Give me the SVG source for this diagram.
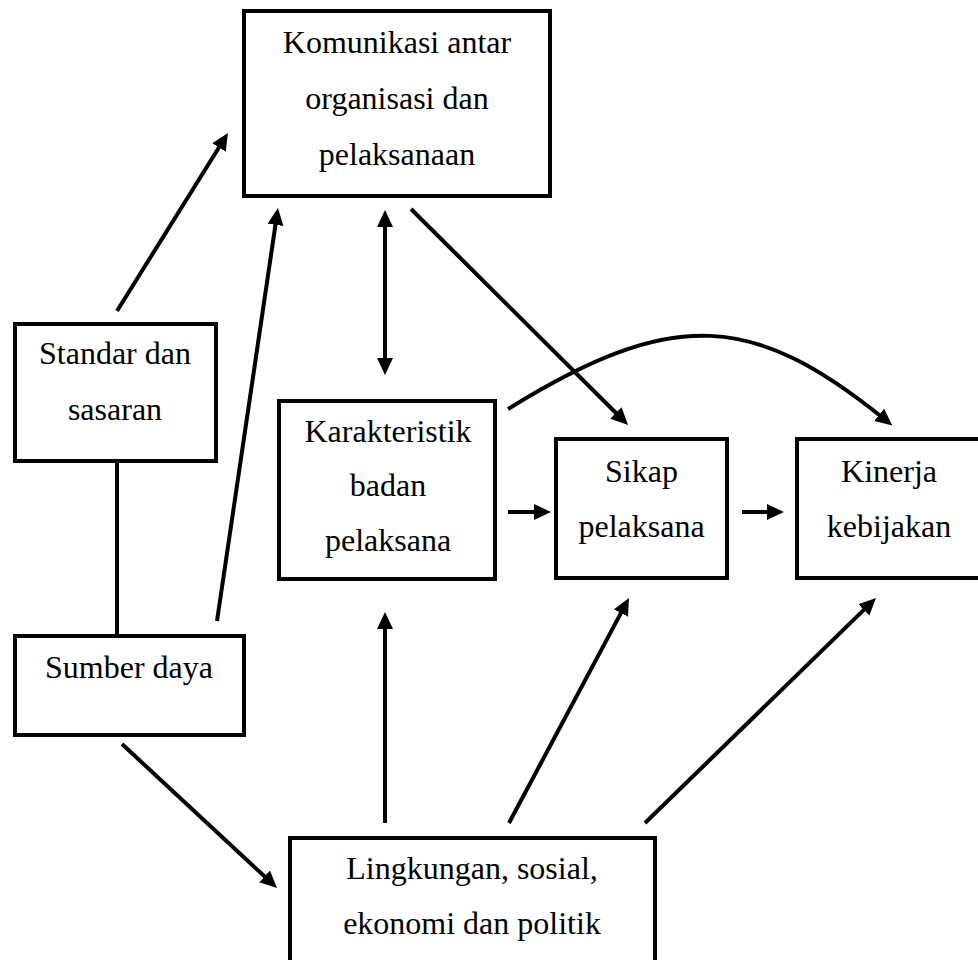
<svg xmlns="http://www.w3.org/2000/svg" width="978" height="960" viewBox="0 0 978 960">
<style>
  .box { fill: #ffffff; stroke: #000000; stroke-width: 4; }
  .lbl { font-family: "Liberation Serif", "Times New Roman", serif; font-size: 32px; fill: #000000; text-anchor: middle; }
  .conn { fill: none; stroke: #000000; stroke-width: 4; }
  .arr { marker-end: url(#ah); }
</style>
<defs>
  <marker id="ah" markerUnits="userSpaceOnUse" markerWidth="18" markerHeight="18" refX="5" refY="8" orient="auto-start-reverse" viewBox="0 0 18 18">
    <path d="M0,0 L17,8 L0,16 z" fill="#000000"/>
  </marker>
</defs>
<rect width="978" height="960" fill="#ffffff"/>

<g id="connectors">
  <line class="conn arr" x1="117" y1="311" x2="221.6" y2="143.2"/>
  <line class="conn arr" x1="217" y1="621" x2="276.2" y2="219.9"/>
  <line class="conn arr" x1="385" y1="222" x2="385" y2="363" marker-start="url(#ah)"/>
  <line class="conn arr" x1="411" y1="209" x2="619.5" y2="416.5"/>
  <path class="conn arr" d="M508,409 C675,305 755,315 883,418"/>
  <line class="conn arr" x1="508" y1="512" x2="539" y2="512"/>
  <line class="conn arr" x1="742" y1="512" x2="772" y2="512"/>
  <line class="conn arr" x1="385" y1="823" x2="385" y2="624"/>
  <line class="conn arr" x1="509" y1="823" x2="623.3" y2="608.6"/>
  <line class="conn arr" x1="645" y1="823" x2="867.4" y2="606.4"/>
  <line class="conn arr" x1="122" y1="744" x2="268.2" y2="879.8"/>
  <line class="conn" x1="117" y1="463" x2="117" y2="634"/>
</g>

<g id="komunikasi">
  <rect class="box" x="244" y="11" width="306" height="185"/>
  <text class="lbl" x="397" y="53">Komunikasi antar</text>
  <text class="lbl" x="397" y="109">organisasi dan</text>
  <text class="lbl" x="397" y="165">pelaksanaan</text>
</g>

<g id="standar">
  <rect class="box" x="15" y="324" width="201" height="137"/>
  <text class="lbl" x="115" y="364">Standar dan</text>
  <text class="lbl" x="115" y="420">sasaran</text>
</g>

<g id="sumber">
  <rect class="box" x="15" y="636" width="229" height="99"/>
  <text class="lbl" x="129" y="678">Sumber daya</text>
</g>

<g id="karakteristik">
  <rect class="box" x="279" y="401" width="216" height="178"/>
  <text class="lbl" x="388" y="442">Karakteristik</text>
  <text class="lbl" x="388" y="496">badan</text>
  <text class="lbl" x="388" y="551">pelaksana</text>
</g>

<g id="sikap">
  <rect class="box" x="556" y="439" width="171" height="139"/>
  <text class="lbl" x="641.5" y="482">Sikap</text>
  <text class="lbl" x="641.5" y="537">pelaksana</text>
</g>

<g id="kinerja">
  <rect class="box" x="797" y="439" width="190" height="139"/>
  <text class="lbl" x="889" y="482">Kinerja</text>
  <text class="lbl" x="889" y="537">kebijakan</text>
</g>

<g id="lingkungan">
  <rect class="box" x="290" y="838" width="365" height="140"/>
  <text class="lbl" x="472" y="879">Lingkungan, sosial,</text>
  <text class="lbl" x="472" y="934">ekonomi dan politik</text>
</g>
</svg>
